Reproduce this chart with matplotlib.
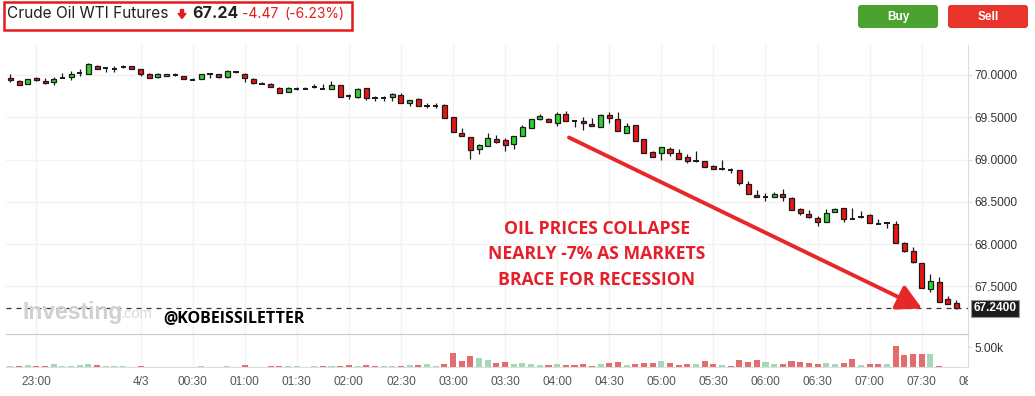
import numpy as np
import matplotlib
matplotlib.use('Agg')
import matplotlib.pyplot as plt
from matplotlib.patches import Rectangle, FancyBboxPatch, Polygon
from matplotlib.transforms import Bbox, TransformedBbox, blended_transform_factory

plt.rcParams['font.family'] = ['Liberation Sans', 'DejaVu Sans']

# 5-minute candles, 22:45 -> 07:50
opens = [69.960, 69.929, 69.893, 69.960, 69.925, 69.913, 69.960, 69.972, 70.027, 70.007,
         70.110, 70.078, 70.074, 70.098, 70.110, 70.067, 70.007, 69.972, 69.984, 70.000,
         69.984, 69.941, 69.948, 70.007, 70.007, 69.972, 70.039, 70.007, 69.952, 69.893,
         69.893, 69.842, 69.795, 69.838, 69.834, 69.862, 69.838, 69.838, 69.880, 69.747,
         69.736, 69.842, 69.724, 69.724, 69.736, 69.764, 69.665, 69.712, 69.637, 69.637,
         69.645, 69.500, 69.314, 69.263, 69.121, 69.157, 69.247, 69.232, 69.184, 69.279,
         69.370, 69.476, 69.476, 69.437, 69.535, 69.460, 69.460, 69.421, 69.389, 69.523,
         69.476, 69.320, 69.409, 69.240, 69.086, 69.082, 69.121, 69.074, 69.027, 68.983,
         68.987, 68.920, 68.885, 68.877, 68.873, 68.708, 68.578, 68.554, 68.562, 68.589,
         68.542, 68.412, 68.357, 68.314, 68.266, 68.377, 68.424, 68.298, 68.318, 68.345,
         68.235, 68.247, 68.239, 68.018, 67.920, 67.774, 67.471, 67.549, 67.352, 67.301]
highs = [70.011, 69.935, 69.955, 69.972, 69.968, 69.972, 70.019, 70.047, 70.067, 70.137,
         70.118, 70.078, 70.106, 70.118, 70.110, 70.067, 70.019, 70.019, 70.007, 70.019,
         69.984, 69.960, 70.007, 70.019, 70.007, 70.059, 70.039, 70.019, 69.960, 69.921,
         69.901, 69.854, 69.854, 69.862, 69.862, 69.889, 69.897, 69.929, 69.882, 69.773,
         69.842, 69.842, 69.752, 69.752, 69.791, 69.783, 69.700, 69.724, 69.665, 69.665,
         69.657, 69.500, 69.370, 69.263, 69.184, 69.310, 69.287, 69.259, 69.275, 69.409,
         69.476, 69.539, 69.488, 69.559, 69.570, 69.468, 69.500, 69.488, 69.535, 69.559,
         69.559, 69.429, 69.409, 69.240, 69.102, 69.145, 69.145, 69.121, 69.062, 69.102,
         68.987, 68.932, 68.995, 68.905, 68.873, 68.747, 68.641, 68.601, 68.613, 68.649,
         68.554, 68.424, 68.404, 68.333, 68.412, 68.424, 68.424, 68.424, 68.396, 68.357,
         68.294, 68.266, 68.274, 68.030, 67.971, 67.774, 67.648, 67.608, 67.388, 67.340]
lows = [69.921, 69.878, 69.890, 69.925, 69.897, 69.885, 69.960, 69.944, 69.992, 70.007,
        70.067, 70.031, 70.031, 70.078, 70.067, 69.992, 69.960, 69.960, 69.984, 69.992,
        69.948, 69.941, 69.948, 69.960, 69.960, 69.960, 70.019, 69.921, 69.897, 69.893,
        69.854, 69.783, 69.795, 69.818, 69.834, 69.842, 69.838, 69.830, 69.745, 69.713,
        69.732, 69.705, 69.693, 69.697, 69.697, 69.665, 69.637, 69.634, 69.606, 69.614,
        69.488, 69.322, 69.275, 69.003, 69.066, 69.157, 69.192, 69.105, 69.129, 69.279,
        69.370, 69.468, 69.448, 69.397, 69.460, 69.381, 69.350, 69.397, 69.381, 69.437,
        69.342, 69.320, 69.224, 69.074, 69.027, 68.995, 69.047, 69.003, 68.964, 68.976,
        68.909, 68.885, 68.877, 68.846, 68.700, 68.589, 68.554, 68.515, 68.554, 68.515,
        68.404, 68.345, 68.306, 68.219, 68.266, 68.377, 68.259, 68.298, 68.306, 68.247,
        68.235, 68.188, 68.010, 67.912, 67.782, 67.478, 67.439, 67.313, 67.293, 67.234]
closes = [69.937, 69.881, 69.952, 69.937, 69.905, 69.948, 69.960, 70.007, 70.027, 70.126,
          70.067, 70.078, 70.074, 70.098, 70.067, 70.007, 69.960, 70.007, 70.007, 70.000,
          69.948, 69.941, 70.007, 70.007, 69.972, 70.047, 70.039, 69.960, 69.901, 69.893,
          69.854, 69.783, 69.842, 69.838, 69.834, 69.862, 69.838, 69.877, 69.745, 69.747,
          69.830, 69.732, 69.724, 69.724, 69.775, 69.665, 69.700, 69.634, 69.637, 69.637,
          69.488, 69.322, 69.275, 69.113, 69.168, 69.251, 69.204, 69.168, 69.275, 69.381,
          69.476, 69.515, 69.448, 69.535, 69.460, 69.460, 69.429, 69.397, 69.530, 69.488,
          69.342, 69.395, 69.224, 69.074, 69.027, 69.145, 69.082, 69.003, 68.987, 68.983,
          68.909, 68.885, 68.885, 68.877, 68.720, 68.589, 68.554, 68.554, 68.589, 68.554,
          68.404, 68.365, 68.318, 68.258, 68.373, 68.412, 68.294, 68.298, 68.318, 68.247,
          68.235, 68.247, 68.018, 67.920, 67.794, 67.478, 67.565, 67.313, 67.293, 67.240]
volumes = [250, 170, 500, 170, 170, 750, 170, 170, 420, 750,
           500, 170, 170, 170, 40, 200, 40, 40, 40, 40,
           40, 40, 170, 40, 40, 170, 40, 500, 40, 40,
           170, 170, 170, 170, 40, 170, 170, 170, 170, 400,
           170, 400, 170, 170, 170, 170, 400, 400, 650, 170,
           650, 3500, 1500, 2750, 2250, 1750, 900, 1250, 650, 900,
           650, 400, 400, 650, 400, 400, 650, 170, 650, 900,
           1250, 400, 650, 900, 900, 1500, 900, 400, 650, 650,
           1500, 650, 400, 170, 1670, 1170, 1670, 1170, 650, 650,
           1420, 1170, 920, 670, 920, 670, 920, 1920, 420, 670,
           670, 670, 5420, 2920, 3420, 3420, 3420, 170, 0, 0]
vol_dir = ("grgrrggggg" "rgggrrrggg" "rrggrggrrr" "rrggggrgrr" "grrggrgrgg"
           "rrrrggrrgg" "ggrgrrrrgr" "rgrrrgrrrg" "rrgrrrrggr" "rrrrggrrgr" "rgrrrrgrrr")

last_price = 67.24
price_ticks = [67.5, 68.0, 68.5, 69.0, 69.5, 70.0]
tick_pos = [3, 15, 21, 27, 33, 39, 45, 51, 57, 63, 69, 75, 81, 87, 93, 99, 105]
tick_labels = ['23:00', '4/3', '00:30', '01:00', '01:30', '02:00', '02:30', '03:00', '03:30',
               '04:00', '04:30', '05:00', '05:30', '06:00', '06:30', '07:00', '07:30']

W, H = 1035, 396
fig = plt.figure(figsize=(W / 100, H / 100), dpi=100)
fig.patch.set_facecolor('white')


def box(x0, y0, x1, y1):
    # pixel box measured from the top-left -> figure fraction rect
    return [x0 / W, 1 - y1 / H, (x1 - x0) / W, (y1 - y0) / H]


ax = fig.add_axes(box(6, 45, 968, 334))
axv = fig.add_axes(box(6, 334, 968, 367), sharex=ax)

x = np.arange(len(closes))
o = np.array(opens)
hi = np.array(highs)
lo = np.array(lows)
c = np.array(closes)
up = c > o
dn = c < o
flat = ~(up | dn)

GREEN = '#2fd12f'
RED = '#ec1515'
EDGE = '#1a1a1a'

ax.vlines(x, lo, hi, color=EDGE, lw=0.9, zorder=2)
ax.bar(x[up], (c - o)[up], bottom=o[up], width=0.58, color=GREEN,
       edgecolor=EDGE, linewidth=0.9, zorder=3)
ax.bar(x[dn], (o - c)[dn], bottom=c[dn], width=0.58, color=RED,
       edgecolor=EDGE, linewidth=0.9, zorder=3)
ax.hlines(c[flat], x[flat] - 0.3, x[flat] + 0.3, color=EDGE, lw=1.4, zorder=3)

vcol = ['#a5d8b9' if d == 'g' else '#e46c6c' for d in vol_dir]
axv.bar(x, volumes, width=0.7, color=vcol, zorder=2)

# axes styling
ax.set_xlim(-0.5, 110.33)
ax.set_ylim(66.9385, 70.3546)
axv.set_ylim(0, 8376)
for a in (ax, axv):
    for s in ('left', 'top', 'bottom'):
        a.spines[s].set_visible(False)
    a.spines['right'].set_color('#dddddd')
    a.yaxis.tick_right()
    a.set_axisbelow(True)
    a.grid(True, axis='x', color='#f2f2f2', lw=1)
    a.tick_params(axis='y', length=3, color='#dddddd', labelcolor='#333333',
                  labelsize=8.6, pad=1.5)
axv.set_xticks(tick_pos)
axv.set_xticklabels(tick_labels)
ax.grid(True, axis='y', color='#f2f2f2', lw=1)
ax.set_yticks(price_ticks)
ax.set_yticklabels([f'{v:.4f}' for v in price_ticks])
ax.tick_params(axis='x', length=0, labelbottom=False)
axv.spines['top'].set_visible(True)
axv.spines['top'].set_color('#c8c8c8')
axv.spines['bottom'].set_visible(True)
axv.spines['bottom'].set_color('#dddddd')
axv.set_yticks([5000])
axv.set_yticklabels(['5.00k'])
axv.tick_params(axis='x', length=0, pad=6.5, labelsize=8.6, labelcolor='#555555')

# "08:00" label cut off by the price scale
t8 = fig.text(111, 1 - 376 / H, '08:00', ha='center', va='top', fontsize=8.6, color='#555555',
              transform=blended_transform_factory(axv.transData, fig.transFigure))
t8.set_clip_box(TransformedBbox(Bbox([[0, 0], [968 / W, 1]]), fig.transFigure))
t8.set_clip_on(True)

# last price line and tag
ax.axhline(last_price, color='#333333', lw=0.9, ls=(0, (4, 4)), zorder=4)
ax.text(1.0055, last_price, f'{last_price:.4f}', transform=blended_transform_factory(ax.transAxes, ax.transData),
        ha='left', va='center', color='white', fontsize=8.6, fontweight='bold', clip_on=False, zorder=6,
        bbox=dict(boxstyle='square,pad=0.22', fc='#1c1c1c', ec='#9a9a9a', lw=0.8))

# overlay in pixel coordinates for the header and annotations
ov = fig.add_axes([0, 0, 1, 1], zorder=5)
ov.set_xlim(0, W)
ov.set_ylim(H, 0)
ov.axis('off')

RED_TXT = '#e31b1b'
ov.add_patch(Rectangle((4, 2), 348, 28, fill=False, ec=RED_TXT, lw=1.8))
ov.text(7, 18.3, 'Crude Oil WTI Futures', family='Inter', fontsize=11.1, color='#222222', va='baseline')
ov.add_patch(Polygon([[180.5, 9.5], [183.5, 9.5], [183.5, 13.5], [186, 13.5], [182, 18.5],
                      [178, 13.5], [180.5, 13.5]], closed=True, color=RED_TXT))
ov.text(192, 18.3, '67.24', family='Inter', fontsize=11.5, fontweight='bold', color='#222222', va='baseline')
ov.text(242, 18.3, '-4.47', family='Inter', fontsize=10, color=RED_TXT, va='baseline')
ov.text(285, 18.3, '(-6.23%)', family='Inter', fontsize=10, color=RED_TXT, va='baseline')

for bx, label, col in [(858, 'Buy', '#4ba22f'), (948, 'Sell', '#e8342a')]:
    ov.add_patch(FancyBboxPatch((bx, 5), 80, 23, boxstyle='round,pad=0,rounding_size=3',
                                fc=col, ec='none'))
    ov.text(bx + 40, 16.7, label, ha='center', va='center', color='white',
            fontweight='bold', fontsize=8.5)

# watermark and handle
ov.text(22, 318.5, 'Investing', fontsize=16.5, fontweight='bold', color='#d0d0d0', va='baseline')
ov.text(121, 318.5, '.com', fontsize=10.5, color='#d8d8d8', va='baseline')
ov.text(163, 321.7, '@KOBEISSILETTER', family='Open Sans', fontweight='bold', fontsize=11.5,
        color='black', va='baseline')

# annotation
ANN = '#e61e28'
for yb, line in [(234.3, 'OIL PRICES COLLAPSE'), (259.3, 'NEARLY -7% AS MARKETS'),
                 (285.3, 'BRACE FOR RECESSION')]:
    ov.text(597, yb, line, ha='center', va='baseline', family='Open Sans', fontweight='bold',
            fontsize=12.7, color=ANN)
ov.annotate('', xy=(922, 308.5), xytext=(569, 137.5),
            arrowprops=dict(arrowstyle='-|>,head_length=0.75,head_width=0.4', mutation_scale=20,
                            color='#e62828', lw=2.8, shrinkA=0, shrinkB=0))

fig.savefig('out.png', dpi=100, facecolor='white')
